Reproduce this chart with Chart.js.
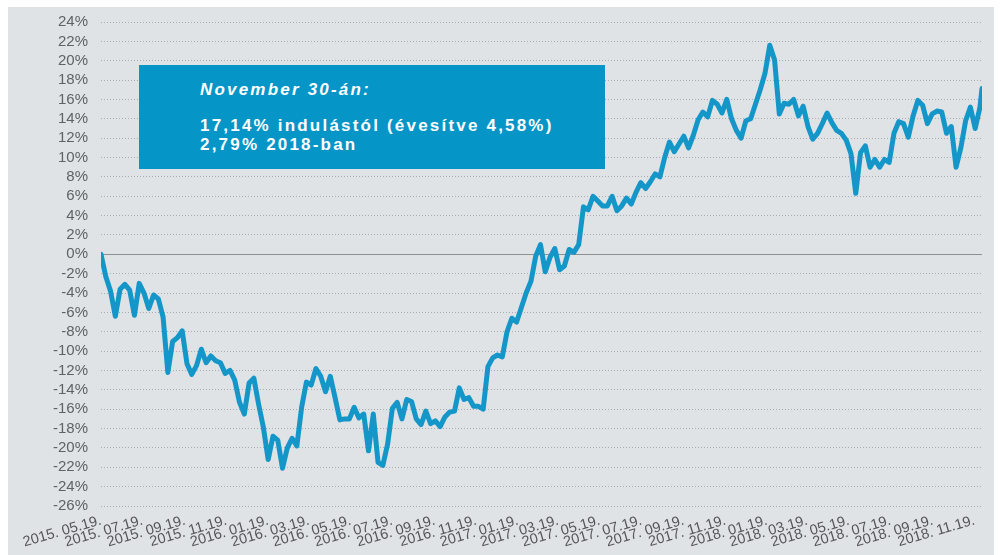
<!DOCTYPE html>
<html>
<head>
<meta charset="utf-8">
<script src="https://cdn.jsdelivr.net/npm/chart.js@4"></script>
<style>
    body { margin: 0; background: #ffffff; }
    #panel { position: absolute; left: 8px; top: 7px; width: 986px; height: 548px; background: #dfe3e6; }
    #wrap { position: absolute; left: 0; top: 0; width: 1000px; height: 555px; }
    #note {
        position: absolute; left: 139px; top: 65px; width: 466px; height: 104px;
        background: #0595c7; color: #ffffff; box-sizing: border-box;
        padding: 15px 0 0 61px;
        font-family: 'Liberation Sans', Arial, sans-serif; font-weight: bold; font-size: 17px;
        letter-spacing: 2.2px; white-space: nowrap;
    }
    #note .title { font-style: italic; line-height: 20px; margin-bottom: 16px; }
    #note .line { line-height: 19px; }
</style>
</head>
<body>
<div id="panel"></div>
<div id="wrap"><canvas id="chart" width="1000" height="555"></canvas></div>
<div id="note">
    <div class="title">November 30-án:</div>
    <div class="line">17,14% indulástól (évesítve 4,58%)</div>
    <div class="line">2,79% 2018-ban</div>
</div>
<script>
// Cumulative return (%), weekly from 2015-05-19, last value on 2018-11-30
const startDate = '2015-05-19'
const endDate = '2018-11-30'
const weeklyReturns = [
    0, -2.3, -3.8, -6.4, -3.6, -3.1, -3.7, -6.3, -3.0, -4.0,
    -5.6, -4.2, -4.6, -6.5, -12.2, -9.0, -8.6, -7.9, -11.3, -12.4,
    -11.5, -9.8, -11.2, -10.5, -11.0, -11.2, -12.3, -12.0, -13.0, -15.3,
    -16.5, -13.3, -12.8, -15.5, -17.9, -21.2, -18.8, -19.2, -22.1, -20.0,
    -19.0, -19.8, -15.8, -13.2, -13.5, -11.8, -12.6, -14.2, -12.6, -14.8,
    -17.1, -17.0, -17.0, -15.8, -16.9, -16.5, -20.3, -16.5, -21.5, -21.8,
    -19.6, -15.9, -15.3, -17.0, -15.0, -15.2, -17.0, -17.6, -16.2, -17.5,
    -17.2, -17.8, -16.8, -16.3, -16.2, -13.8, -15.0, -14.8, -15.7, -15.7,
    -16.0, -11.6, -10.7, -10.4, -10.6, -8.0, -6.6, -7.0, -5.5, -4.0,
    -2.8, -0.2, 1.0, -1.8, -0.3, 0.6, -1.6, -1.2, 0.5, 0.2,
    1.0, 4.9, 4.6, 6.0, 5.5, 5.0, 5.0, 6.0, 4.5, 5.0,
    5.8, 5.2, 6.4, 7.4, 6.8, 7.5, 8.3, 8.0, 10.0, 11.6,
    10.6, 11.4, 12.2, 11.0, 12.3, 13.9, 14.7, 14.2, 15.9, 15.5,
    14.6, 16.0, 14.0, 12.8, 12.0, 13.8, 14.0, 15.5, 17.0, 18.7,
    21.6, 20.1, 14.5, 15.6, 15.5, 16.0, 14.3, 15.3, 13.2, 11.9,
    12.5, 13.5, 14.6, 13.6, 12.8, 12.5, 11.8, 10.4, 6.3, 10.5,
    11.2, 9.0, 9.8, 9.0, 9.8, 9.5, 12.5, 13.7, 13.5, 12.1,
    14.3, 15.9, 15.4, 13.5, 14.5, 14.8, 14.7, 12.5, 13.2, 9.0,
    11.0, 13.8, 15.2, 13.0, 15.2
]
const lastReturn = 17.14

const xTickLabels = [
    '2015. 05.19.', '2015. 07.19.', '2015. 09.19.', '2015. 11.19.',
    '2016. 01.19.', '2016. 03.19.', '2016. 05.19.', '2016. 07.19.',
    '2016. 09.19.', '2016. 11.19.', '2017. 01.19.', '2017. 03.19.',
    '2017. 05.19.', '2017. 07.19.', '2017. 09.19.', '2017. 11.19.',
    '2018. 01.19.', '2018. 03.19.', '2018. 05.19.', '2018. 07.19.',
    '2018. 09.19.', '2018. 11.19.'
]

const yMin = -26
const yMax = 24
const yStep = 2

const DAY = 86400000
const t0 = Date.parse(startDate + 'T00:00:00Z')
const dayOf = (y, m, d) => Math.round((Date.UTC(y, m - 1, d) - t0) / DAY)
const lastDay = Math.round((Date.parse(endDate + 'T00:00:00Z') - t0) / DAY)

// x positions (days since start) for each value
const points = weeklyReturns.map((v, i) => ({ x: i * 7, y: v }))
points.push({ x: lastDay, y: lastReturn })

const tickDays = xTickLabels.map(label => {
    const [y, md] = label.split('. ')
    const [m, d] = md.split('.')
    return dayOf(parseInt(y), parseInt(m), parseInt(d))
})

const fontFamily = "'Liberation Sans', Arial, sans-serif"

const config = {
    type: 'line',
    data: {
        datasets: [{
            data: points,
            borderColor: '#1496c8',
            borderWidth: 5,
            pointRadius: 0,
            tension: 0,
            borderJoinStyle: 'round',
            borderCapStyle: 'round'
        }]
    },
    options: {
        responsive: false,
        animation: false,
        layout: { padding: { top: 21, right: 18, left: 0, bottom: 0 } },
        plugins: {
            legend: { display: false },
            tooltip: { enabled: false }
        },
        scales: {
            x: {
                type: 'linear',
                min: 0,
                max: lastDay,
                afterBuildTicks: scale => {
                    scale.ticks = tickDays.map(v => ({ value: v }))
                },
                afterFit: scale => { scale.height = 49 },
                grid: { display: false, drawTicks: false },
                border: { display: false },
                ticks: {
                    autoSkip: false,
                    minRotation: 16,
                    maxRotation: 16,
                    padding: 6,
                    color: '#555555',
                    font: { family: fontFamily, size: 14.5 },
                    callback: (value, index) => xTickLabels[index]
                }
            },
            y: {
                min: yMin,
                max: yMax,
                afterFit: scale => { scale.width = 101 },
                grid: {
                    drawTicks: false,
                    color: ctx => ctx.tick && ctx.tick.value === 0 ? '#8c9094' : '#a9adb1',
                    lineWidth: 1
                },
                border: {
                    display: false,
                    dash: ctx => ctx.tick && ctx.tick.value === 0 ? [] : [1, 2]
                },
                ticks: {
                    autoSkip: false,
                    stepSize: yStep,
                    padding: 13,
                    color: '#5f6266',
                    font: { family: fontFamily, size: 15 },
                    callback: value => value + '%'
                }
            }
        }
    }
}

const ctx = document.getElementById('chart').getContext('2d')
new Chart(ctx, config)
</script>
</body>
</html>
